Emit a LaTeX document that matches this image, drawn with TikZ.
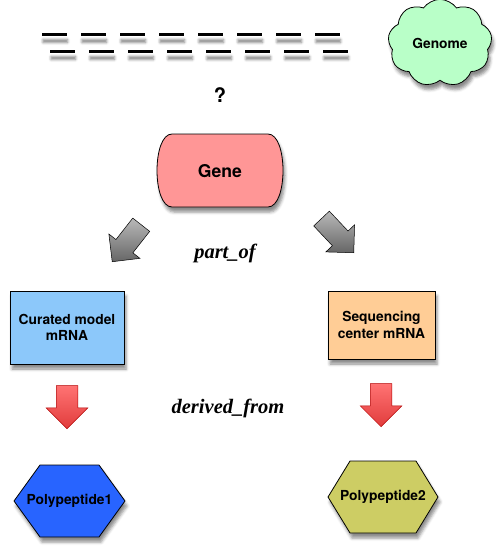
\documentclass[tikz,border=0pt]{standalone}
\usepackage{fontspec}
\setmainfont{TeX Gyre Heros}
\newfontfamily\relfont{Liberation Serif}
\usetikzlibrary{shapes.geometric, shapes.symbols, shapes.arrows, shadows.blur}
\definecolor{genered}{RGB}{255,150,150}
\definecolor{genomegreen}{RGB}{185,255,200}
\definecolor{curatedblue}{RGB}{140,200,250}
\definecolor{seqorange}{RGB}{255,205,150}
\definecolor{pepblue}{RGB}{40,100,255}
\definecolor{pepolive}{RGB}{205,205,100}
\definecolor{arrowred}{RGB}{225,60,60}
\definecolor{arrowpink}{RGB}{255,115,115}
\tikzset{
    shade/.style={blur shadow={shadow xshift=2pt, shadow yshift=-5pt, shadow blur radius=3pt, shadow opacity=45}},
    lbl/.style={font=\bfseries\fontsize{13.8}{16.7}\selectfont, align=center},
    box/.style={draw, line width=0.8pt, shade, lbl, inner sep=0pt},
    outline/.style={draw, line width=0.8pt, shade},
    bigarrow/.style={single arrow, draw, line width=0.5pt, inner xsep=0pt, inner ysep=10.5pt, minimum height=47pt, single arrow head extend=9pt, top color=gray!55, bottom color=gray!80!black, anchor=tip},
    redarrow/.style={single arrow, draw=red!70!black, line width=0.5pt, inner xsep=0pt, inner ysep=10.5pt, minimum height=43pt, single arrow head extend=10pt, top color=arrowpink, bottom color=arrowred, rotate=-90, anchor=tip},
    rel/.style={font=\relfont\bfseries\itshape\fontsize{20.5}{22}\selectfont},
    dashbar/.style={fill=black, blur shadow={shadow xshift=1pt, shadow yshift=-6pt, shadow blur radius=2.5pt, shadow opacity=50}}
}

\begin{document}
\begin{tikzpicture}[x=1pt, y=-1pt]
    \useasboundingbox (0,0) rectangle (501,551);

    % genome pieces
    \foreach \i in {0,...,7} {
        \fill[dashbar] (42+39*\i,33.5) rectangle ++(24.5,3);
        \fill[dashbar] (50+39*\i,50.5) rectangle ++(24.5,3);
    }
    \node[box, cloud, cloud puffs=9, cloud puff arc=110, minimum width=104pt, minimum height=68pt, fill=genomegreen] (genome) at (440,43) {Genome};
    \node[font=\bfseries\fontsize{20}{20}\selectfont] (what) at (220,95) {?};

    % gene
    \draw[outline, fill=genered] (172,134) -- (268,134) .. controls (288,134) and (288,207) .. (268,207) -- (172,207) .. controls (152,207) and (152,134) .. (172,134) -- cycle;
    \node[lbl, font=\bfseries\fontsize{17.6}{20}\selectfont] (gene) at (220,171) {Gene};

    \node[bigarrow, rotate=231.9] (partl) at (112,262) {};
    \node[bigarrow, rotate=-46.7] (partr) at (354,253) {};
    \node[rel] (partof) at (225,253) {part\_of};

    % transcripts
    \node[box, fill=curatedblue, minimum width=114pt, minimum height=73pt] (curated) at (67,327.5) {Curated model\\mRNA};
    \node[box, fill=seqorange, minimum width=107pt, minimum height=68pt] (seqcenter) at (381.5,325) {Sequencing\\center mRNA};

    \node[redarrow] (derl) at (67,429) {};
    \node[redarrow] (derr) at (381,427) {};
    \node[rel] (derived) at (228,408) {derived\_from};

    % proteins
    \coordinate (p1) at (69.5,501);
    \coordinate (p2) at (383,497);
    \draw[outline, fill=pepblue] ([xshift=-55.5pt]p1) -- ++(26,-36) -- ++(59,0) -- ++(26,36) -- ++(-26,36) -- ++(-59,0) -- cycle;
    \draw[outline, fill=pepolive] ([xshift=-55pt]p2) -- ++(22,-36) -- ++(66,0) -- ++(22,36) -- ++(-22,36) -- ++(-66,0) -- cycle;
    \node[lbl] (pep1) at (p1) {Polypeptide1};
    \node[lbl] (pep2) at (p2) {Polypeptide2};
\end{tikzpicture}
\end{document}
